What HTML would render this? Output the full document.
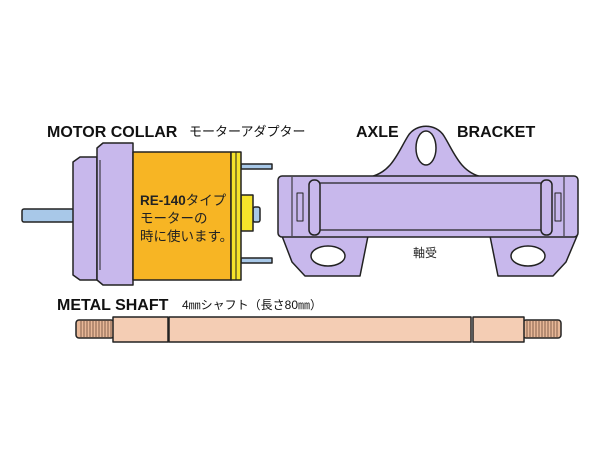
<!DOCTYPE html>
<html><head><meta charset="utf-8"><style>
html,body{margin:0;padding:0;background:#fff;}
svg{display:block}
text{font-family:"Liberation Sans","Noto Sans CJK JP",sans-serif;}
</style></head><body>
<svg width="600" height="450" viewBox="0 0 600 450" xmlns="http://www.w3.org/2000/svg">
<rect width="600" height="450" fill="#fff"/>
<text x="47" y="137" font-size="16" font-weight="bold" fill="#111">MOTOR COLLAR</text>
<text x="189" y="136" font-size="13" fill="#111">モーターアダプター</text>
<text x="356" y="137" font-size="16" font-weight="bold" fill="#111">AXLE</text>
<text x="457" y="137" font-size="16" font-weight="bold" fill="#111">BRACKET</text>
<text x="57" y="310" font-size="16" font-weight="bold" fill="#111">METAL SHAFT</text>
<text x="182" y="309" font-size="12" fill="#111">4㎜シャフト（長さ80㎜）</text>

<g stroke="#222" stroke-width="1.5" stroke-linejoin="round">
<rect x="22" y="209" width="52" height="13" rx="2" fill="#a8c8e8"/>
<path d="M73,162 L80,157 L97,157 L97,280 L80,280 L73,275 Z" fill="#c8b8ec"/>
<path d="M97,148 L103,143 L133,143 L133,285 L103,285 L97,280 Z" fill="#c8b8ec"/>
<line x1="100" y1="160" x2="100" y2="270" stroke-width="1"/>
<rect x="241" y="164" width="31" height="5" fill="#a8c8e8"/>
<rect x="241" y="258" width="31" height="5" fill="#a8c8e8"/>
<rect x="253" y="207" width="7" height="15" rx="2" fill="#a8c8e8"/>
<rect x="241" y="195" width="12" height="36" fill="#f5e32a"/>
<rect x="133" y="152" width="98" height="128" fill="#f7b524"/>
<rect x="231" y="152" width="10" height="128" fill="#f5e32a"/>
<line x1="236" y1="152" x2="236" y2="280" stroke-width="1"/>

<path d="M370,177 C392,172 398,152 408,136 C416,123 436,123 444,136 C454,152 460,172 482,177 Z" fill="#c8b8ec"/>
<ellipse cx="426" cy="148" rx="10" ry="17" fill="#fff"/>
<path d="M282,236 L292,262 L305,276 L360,276 L368,236 Z" fill="#c8b8ec"/>
<path d="M490,236 L498,276 L553,276 L566,262 L577,236 Z" fill="#c8b8ec"/>
<ellipse cx="328" cy="256" rx="17" ry="10" fill="#fff"/>
<ellipse cx="528" cy="256" rx="17" ry="10" fill="#fff"/>
<rect x="278" y="176" width="300" height="61" rx="4" fill="#c8b8ec"/>
<rect x="319" y="183" width="224" height="47" fill="#c8b8ec" stroke-width="1.2"/>
<line x1="292" y1="177" x2="292" y2="236" stroke-width="1"/>
<line x1="564" y1="177" x2="564" y2="236" stroke-width="1"/>
<rect x="297" y="193" width="6" height="28" fill="#c8b8ec" stroke-width="1"/>
<rect x="555" y="193" width="6" height="28" fill="#c8b8ec" stroke-width="1"/>
<rect x="309" y="180" width="11" height="55" rx="5" fill="#c8b8ec"/>
<rect x="541" y="180" width="11" height="55" rx="5" fill="#c8b8ec"/>

<rect x="76" y="320" width="38" height="18" rx="3" fill="#e8b898"/>
<rect x="523" y="320" width="38" height="18" rx="3" fill="#e8b898"/>
<rect x="113" y="317" width="55" height="25" fill="#f4cdb4"/>
<rect x="169" y="317" width="302" height="25" fill="#f4cdb4"/>
<rect x="473" y="317" width="51" height="25" fill="#f4cdb4"/>
</g>
<g stroke="#6a4a3a" stroke-width="0.8">
<path d="M81,321V337M84,321V337M87,321V337M90,321V337M93,321V337M96,321V337M99,321V337M102,321V337M105,321V337M108,321V337M111,321V337"/>
<path d="M527,321V337M530,321V337M533,321V337M536,321V337M539,321V337M542,321V337M545,321V337M548,321V337M551,321V337M554,321V337M557,321V337"/>
</g>

<text x="140" y="205" font-size="13.5" fill="#222"><tspan font-weight="bold">RE-140</tspan>タイプ</text>
<text x="140" y="223" font-size="13.5" fill="#222">モーターの</text>
<text x="140" y="241" font-size="13.5" fill="#222">時に使います。</text>
<text x="413" y="257" font-size="12" fill="#222">軸受</text>
</svg>
</body></html>
